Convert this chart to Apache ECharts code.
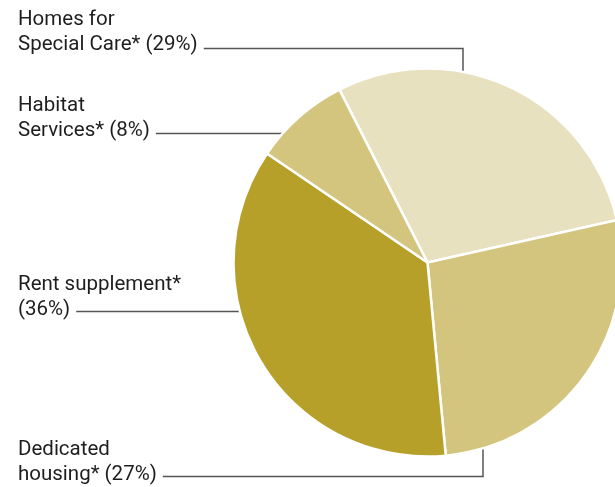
<!DOCTYPE html>
<html>
<head>
<meta charset="utf-8">
<script src="https://cdn.jsdelivr.net/npm/echarts@6/dist/echarts.min.js"></script>
<style>
  html, body { margin: 0; padding: 0; background: #fff; }
  #chart { width: 615px; height: 487px; }
</style>
</head>
<body>
<div id="chart"></div>
<script>
// slices, clockwise from the top
const categories = ['Homes for\nSpecial Care*', 'Dedicated\nhousing*', 'Rent supplement*', 'Habitat\nServices*'];
const shares = [29, 27, 36, 8];
const sliceColors = ['#e8e1bf', '#d4c57e', '#b7a02a', '#d4c57e'];

// layout, same order as categories
const center = [427.5, 262.5];
const radius = 194;
const fontSize = 20.5;
const lineHeight = 25;
const fontFamily = 'Roboto, sans-serif';
const labelX = 18;
const labelBottom = [57.5, 487.5, 322, 143.5];
const leaderY = [48.5, 476.5, 311.5, 133.5];
const anchorX = [463, 483, null, null]; // null: leader runs straight into the left edge

function labelText(name, value) {
  return name.indexOf('\n') >= 0 ? name + ' (' + value + '%)' : name + '\n(' + value + '%)';
}

const ctx = document.createElement('canvas').getContext('2d');
ctx.font = fontSize + 'px ' + fontFamily;

const leaders = categories.map((name, i) => {
  const lines = labelText(name, shares[i]).split('\n');
  const x0 = labelX + ctx.measureText(lines[lines.length - 1]).width + 6;
  const y = leaderY[i];
  let points;
  if (anchorX[i] == null) {
    const dy = y - center[1];
    points = [[x0, y], [center[0] - Math.sqrt(radius * radius - dy * dy), y]];
  } else {
    const dx = anchorX[i] - center[0];
    const h = Math.sqrt(radius * radius - dx * dx);
    const ey = y < center[1] ? center[1] - h : center[1] + h;
    points = [[x0, y], [anchorX[i], y], [anchorX[i], ey]];
  }
  return {
    type: 'polyline',
    silent: true,
    shape: { points: points },
    style: { stroke: '#555', lineWidth: 1.5, fill: null }
  };
});

const chart = echarts.init(document.getElementById('chart'), null, { renderer: 'canvas' });
chart.setOption({
  animation: false,
  graphic: leaders,
  series: [{
    type: 'pie',
    center: center,
    radius: radius,
    startAngle: 117,
    clockwise: true,
    avoidLabelOverlap: false,
    data: categories.map((name, i) => ({
      name: name,
      value: shares[i],
      itemStyle: { color: sliceColors[i] }
    })),
    itemStyle: { borderColor: '#fff', borderWidth: 2.5 },
    emphasis: { disabled: true },
    label: {
      show: true,
      position: 'outside',
      formatter: p => labelText(p.name, p.value),
      color: '#1e1e1e',
      fontSize: fontSize,
      lineHeight: lineHeight,
      fontFamily: fontFamily
    },
    labelLine: { show: false },
    labelLayout: p => ({
      x: labelX,
      y: labelBottom[p.dataIndex],
      align: 'left',
      verticalAlign: 'bottom'
    })
  }]
});
</script>
</body>
</html>
